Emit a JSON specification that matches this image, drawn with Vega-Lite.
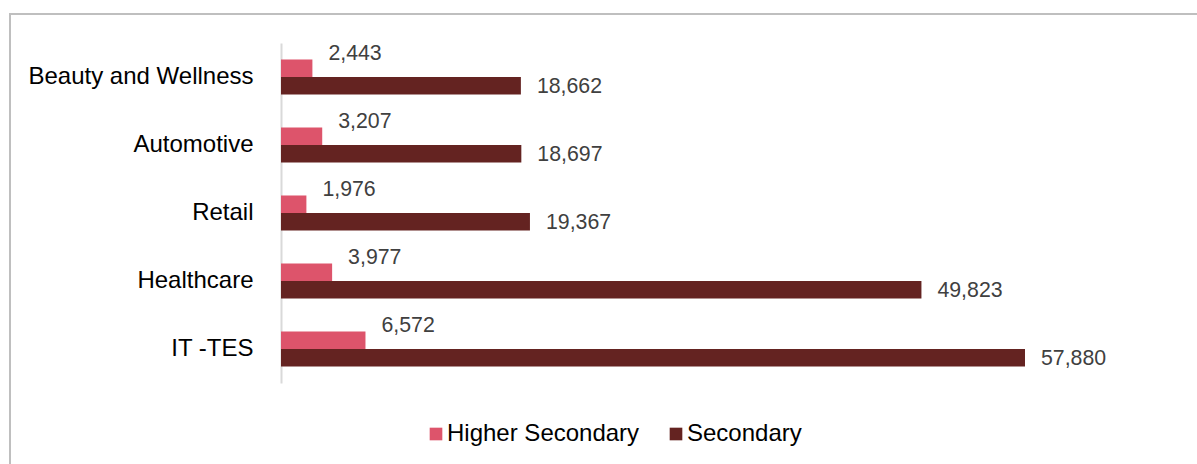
{
  "$schema": "https://vega.github.io/schema/vega-lite/v6.json",
  "width": 1192,
  "height": 455,
  "autosize": {"type": "none"},
  "padding": {"left": 10, "top": 14, "right": -5, "bottom": -5},
  "background": "white",
  "config": {
    "view": {"stroke": "#BFBFBF", "strokeWidth": 2},
    "font": "Liberation Sans"
  },
  "data": {
    "values": [
      {"category": "Beauty and Wellness", "series": "Higher Secondary", "value": 2443},
      {"category": "Beauty and Wellness", "series": "Secondary", "value": 18662},
      {"category": "Automotive", "series": "Higher Secondary", "value": 3207},
      {"category": "Automotive", "series": "Secondary", "value": 18697},
      {"category": "Retail", "series": "Higher Secondary", "value": 1976},
      {"category": "Retail", "series": "Secondary", "value": 19367},
      {"category": "Healthcare", "series": "Higher Secondary", "value": 3977},
      {"category": "Healthcare", "series": "Secondary", "value": 49823},
      {"category": "IT -TES", "series": "Higher Secondary", "value": 6572},
      {"category": "IT -TES", "series": "Secondary", "value": 57880}
    ]
  },
  "encoding": {
    "y": {
      "field": "category",
      "type": "nominal",
      "sort": ["Beauty and Wellness", "Automotive", "Retail", "Healthcare", "IT -TES"],
      "scale": {"range": [29, 369], "paddingInner": 0.485, "paddingOuter": 0.2425},
      "axis": {
        "title": null,
        "offset": -271,
        "ticks": false,
        "tickSize": 0,
        "grid": false,
        "labelPadding": 28,
        "labelFontSize": 24,
        "labelFont": "Liberation Sans",
        "labelColor": "#000000",
        "labelLimit": 400,
        "domainColor": "#D9D9D9",
        "domainWidth": 2
      }
    },
    "x": {
      "field": "value",
      "type": "quantitative",
      "scale": {"domain": [0, 57880], "range": [271, 1015]},
      "axis": null
    },
    "yOffset": {
      "field": "series",
      "type": "nominal",
      "sort": ["Higher Secondary", "Secondary"],
      "scale": {"paddingInner": 0, "paddingOuter": 0}
    }
  },
  "layer": [
    {
      "mark": {"type": "bar"},
      "encoding": {
        "color": {
          "field": "series",
          "type": "nominal",
          "scale": {"domain": ["Higher Secondary", "Secondary"], "range": ["#DD546B", "#642321"]},
          "legend": {
            "title": null,
            "orient": "none",
            "legendX": 414,
            "legendY": 408,
            "direction": "horizontal",
            "symbolType": "square",
            "symbolSize": 160,
            "symbolStrokeWidth": 0,
            "labelFontSize": 24,
            "labelFont": "Liberation Sans",
            "labelColor": "#000000",
            "labelLimit": 400,
            "labelOffset": -1,
            "columnPadding": 24,
            "padding": 0
          }
        }
      }
    },
    {
      "transform": [{"filter": "datum.series === 'Higher Secondary'"}],
      "mark": {"type": "text", "align": "left", "baseline": "middle", "dx": 16, "dy": -14, "fontSize": 21.3, "color": "#404040"},
      "encoding": {"text": {"field": "value", "type": "quantitative", "format": ","}}
    },
    {
      "transform": [{"filter": "datum.series === 'Secondary'"}],
      "mark": {"type": "text", "align": "left", "baseline": "middle", "dx": 16, "dy": 1, "fontSize": 21.3, "color": "#404040"},
      "encoding": {"text": {"field": "value", "type": "quantitative", "format": ","}}
    }
  ]
}
